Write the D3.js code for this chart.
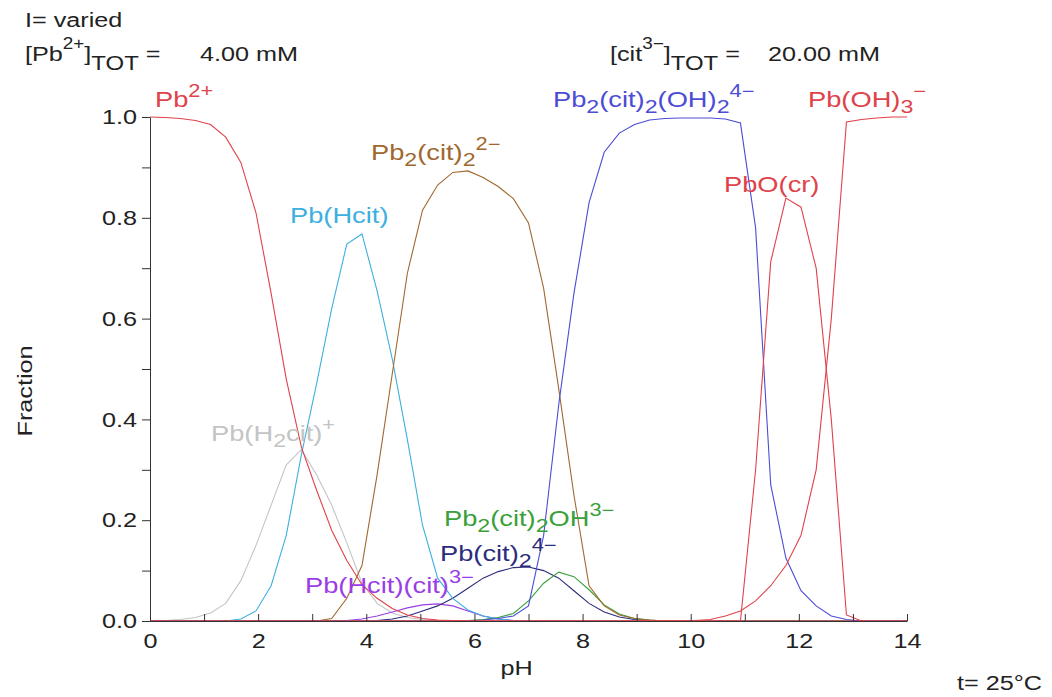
<!DOCTYPE html>
<html>
<head>
<meta charset="utf-8">
<script src="https://cdn.jsdelivr.net/npm/d3@7/dist/d3.min.js"></script>
<style>
body { margin: 0; background: #fff; }
svg text { font-family: "Liberation Sans", Arial, sans-serif; }
</style>
</head>
<body>
<div id="chart"></div>
<script>
// pH grid used by every species curve
const pH = [0, 0.28, 0.56, 0.84, 1.12, 1.4, 1.68, 1.96, 2.24, 2.52,
    2.8, 3.08, 3.36, 3.64, 3.92, 4.2, 4.48, 4.76, 5.04, 5.32,
    5.6, 5.88, 6.16, 6.44, 6.72, 7, 7.28, 7.56, 7.84, 8.12,
    8.4, 8.68, 8.96, 9.24, 9.52, 9.8, 10.08, 10.36, 10.64, 10.92,
    11.2, 11.48, 11.76, 12.04, 12.32, 12.6, 12.88, 13.16, 13.44, 13.72,
    14];

// fractions (one value per pH point)
const pb2 = [1.0, 0.999, 0.997, 0.993, 0.985, 0.96, 0.91, 0.81, 0.65, 0.48,
    0.345, 0.26, 0.18, 0.12, 0.072, 0.045, 0.025, 0.012, 0.005, 0.002,
    0.001, 0, 0, 0, 0, 0, 0, 0, 0, 0,
    0, 0, 0, 0, 0, 0, 0, 0, 0, 0,
    0, 0, 0, 0, 0, 0, 0, 0, 0, 0,
    0];
const pbH2cit = [0, 0.001, 0.003, 0.007, 0.016, 0.035, 0.08, 0.15, 0.23, 0.31,
    0.34, 0.29, 0.23, 0.155, 0.075, 0.035, 0.016, 0.007, 0.003, 0.001,
    0, 0, 0, 0, 0, 0, 0, 0, 0, 0,
    0, 0, 0, 0, 0, 0, 0, 0, 0, 0,
    0, 0, 0, 0, 0, 0, 0, 0, 0, 0,
    0];
const pbHcit = [0, 0, 0, 0, 0, 0, 0.004, 0.02, 0.07, 0.17,
    0.33, 0.47, 0.62, 0.748, 0.768, 0.655, 0.52, 0.36, 0.19, 0.085,
    0.045, 0.022, 0.01, 0.004, 0.001, 0, 0, 0, 0, 0,
    0, 0, 0, 0, 0, 0, 0, 0, 0, 0,
    0, 0, 0, 0, 0, 0, 0, 0, 0, 0,
    0];
const pb2cit2 = [0, 0, 0, 0, 0, 0, 0, 0, 0, 0,
    0, 0, 0.005, 0.045, 0.11, 0.29, 0.49, 0.69, 0.815, 0.865,
    0.89, 0.893, 0.88, 0.862, 0.838, 0.79, 0.66, 0.46, 0.25, 0.07,
    0.03, 0.012, 0.005, 0.002, 0, 0, 0, 0, 0, 0,
    0, 0, 0, 0, 0, 0, 0, 0, 0, 0,
    0];
const pb2cit2oh2 = [0, 0, 0, 0, 0, 0, 0, 0, 0, 0,
    0, 0, 0, 0, 0, 0, 0, 0, 0, 0,
    0, 0, 0.002, 0.005, 0.01, 0.03, 0.17, 0.43, 0.65, 0.83,
    0.93, 0.968, 0.985, 0.994, 0.997, 0.998, 0.998, 0.998, 0.996, 0.988,
    0.78, 0.27, 0.125, 0.06, 0.03, 0.01, 0.003, 0, 0, 0,
    0];
const pbO = [0, 0, 0, 0, 0, 0, 0, 0, 0, 0,
    0, 0, 0, 0, 0, 0, 0, 0, 0, 0,
    0, 0, 0, 0, 0, 0, 0, 0, 0, 0,
    0, 0, 0, 0, 0, 0, 0, 0, 0, 0,
    0.30, 0.713, 0.839, 0.821, 0.70, 0.40, 0.012, 0, 0, 0,
    0];
const pbOH3 = [0, 0, 0, 0, 0, 0, 0, 0, 0, 0,
    0, 0, 0, 0, 0, 0, 0, 0, 0, 0,
    0, 0, 0, 0, 0, 0, 0, 0, 0, 0,
    0, 0, 0, 0, 0, 0, 0.001, 0.003, 0.01, 0.02,
    0.04, 0.07, 0.11, 0.17, 0.30, 0.60, 0.99, 0.995, 0.998, 1.0,
    1.0];
const pbHcitcit = [0, 0, 0, 0, 0, 0, 0, 0, 0, 0,
    0, 0, 0, 0.001, 0.004, 0.01, 0.018, 0.026, 0.032, 0.034,
    0.03, 0.02, 0.01, 0.004, 0.001, 0, 0, 0, 0, 0,
    0, 0, 0, 0, 0, 0, 0, 0, 0, 0,
    0, 0, 0, 0, 0, 0, 0, 0, 0, 0,
    0];
const pbcit2 = [0, 0, 0, 0, 0, 0, 0, 0, 0, 0,
    0, 0, 0, 0, 0, 0.001, 0.004, 0.01, 0.02, 0.03,
    0.045, 0.065, 0.085, 0.098, 0.106, 0.107, 0.10, 0.085, 0.06, 0.035,
    0.018, 0.008, 0.003, 0.001, 0, 0, 0, 0, 0, 0,
    0, 0, 0, 0, 0, 0, 0, 0, 0, 0,
    0];
const pb2cit2oh = [0, 0, 0, 0, 0, 0, 0, 0, 0, 0,
    0, 0, 0, 0, 0, 0, 0, 0, 0, 0,
    0, 0.001, 0.003, 0.007, 0.015, 0.04, 0.075, 0.097, 0.088, 0.062,
    0.032, 0.014, 0.005, 0.002, 0, 0, 0, 0, 0, 0,
    0, 0, 0, 0, 0, 0, 0, 0, 0, 0,
    0];

const xTicks = [0, 1, 2, 3, 4, 5, 6, 7, 8, 9, 10, 11, 12, 13, 14];
const yTicks = [0, 0.1, 0.2, 0.3, 0.4, 0.5, 0.6, 0.7, 0.8, 0.9, 1.0];

const series = [
    { values: pbH2cit, color: "#c4c4c4", label: "Pb(H_{2}cit)^{+}", lx: 211, ly: 441 },
    { values: pbHcitcit, color: "#9a3de6", label: "Pb(Hcit)(cit)^{3−}", lx: 305, ly: 593 },
    { values: pbcit2, color: "#2c2c7c", label: "Pb(cit)_{2}^{4−}", lx: 440, ly: 561 },
    { values: pb2cit2oh, color: "#3aa03a", label: "Pb_{2}(cit)_{2}OH^{3−}", lx: 444, ly: 526 },
    { values: pbHcit, color: "#3db0e0", label: "Pb(Hcit)", lx: 290, ly: 223 },
    { values: pb2cit2, color: "#a0682e", label: "Pb_{2}(cit)_{2}^{2−}", lx: 371, ly: 160 },
    { values: pb2cit2oh2, color: "#4c4cd6", label: "Pb_{2}(cit)_{2}(OH)_{2}^{4−}", lx: 553, ly: 107 },
    { values: pbO, color: "#e0424a", label: "PbO(cr)", lx: 724, ly: 192 },
    { values: pbOH3, color: "#e0424a", label: "Pb(OH)_{3}^{−}", lx: 808, ly: 107 },
    { values: pb2, color: "#e0424a", label: "Pb^{2+}", lx: 155, ly: 107 }
];

const FS = 21;     // base font size
const SX = 1.2;    // the original lettering is wider than Arial

const svg = d3.select("#chart")
    .append("svg")
    .attr("width", 1052)
    .attr("height", 697);

const x = d3.scaleLinear().domain([0, 14]).range([150, 907]);
const y = d3.scaleLinear().domain([0, 1]).range([621, 117]);

const line = d3.line()
    .x((d, i) => x(pH[i]))
    .y(d => y(d));

series.forEach(s => {
    svg.append("path")
        .datum(s.values)
        .attr("fill", "none")
        .attr("stroke", s.color)
        .attr("stroke-width", 1.1)
        .attr("d", line);
});

// text with _{sub} and ^{sup} markup
function richText(px, py, str, color, opt = {}) {
    const fs = opt.fs || FS, sx = opt.sx || SX;
    const subShift = opt.sub || 6, supShift = opt.sup || -10;
    const subSize = opt.subSize || 0.85, supSize = opt.supSize || 0.8;
    const t = svg.append("text")
        .attr("transform", `translate(${px},${py}) scale(${sx},1)`)
        .attr("fill", color)
        .style("font-size", fs + "px");
    const re = /([_^])\{([^}]*)\}|([^_^]+)/g;
    let m, shift = 0;
    while ((m = re.exec(str))) {
        let target = 0, size = fs, txt = m[3];
        if (m[1] === "_") { target = subShift; size = fs * subSize; txt = m[2]; }
        if (m[1] === "^") { target = supShift; size = fs * supSize; txt = m[2]; }
        t.append("tspan")
            .attr("dy", target - shift)
            .style("font-size", size + "px")
            .text(txt);
        shift = target;
    }
    return t;
}

function stretchText(sel) {
    sel.selectAll("text").each(function () {
        const t = d3.select(this);
        const tx = +t.attr("x") || 0;
        const ty = +t.attr("y") || 0;
        t.attr("x", 0).attr("y", 0)
            .attr("transform", `translate(${tx},${ty}) scale(${SX},1)`);
    });
}

const yAxis = svg.append("g")
    .attr("transform", `translate(${x(0)},0)`)
    .call(d3.axisLeft(y)
        .tickValues(yTicks)
        .tickSizeInner(8)
        .tickSizeOuter(0)
        .tickPadding(5)
        .tickFormat((d, i) => i % 2 === 0 ? d3.format(".1f")(d) : ""));

const xAxis = svg.append("g")
    .attr("transform", `translate(0,${y(0)})`)
    .call(d3.axisBottom(x)
        .tickValues(xTicks)
        .tickSizeInner(-7)
        .tickSizeOuter(0)
        .tickPadding(12)
        .tickFormat(d => d % 2 === 0 ? d : ""));

[xAxis, yAxis].forEach(a => {
    a.select(".domain").attr("stroke", "#333");
    a.selectAll(".tick line").attr("stroke", "#333");
    a.selectAll("text")
        .style("font-size", FS + "px")
        .style("font-family", "\"Liberation Sans\", Arial, sans-serif")
        .attr("fill", "#222");
    stretchText(a);
});

series.forEach(s => richText(s.lx, s.ly, s.label, s.color, { fs: 22, sx: 1.24 }));

// header
const hdr = { sup: -12, sub: 9, subSize: 0.95, supSize: 0.75 };
richText(25, 27, "I= varied", "#222");
richText(25, 61, "[Pb^{2+}]_{TOT} =", "#222", hdr);
richText(200, 61, "4.00 mM", "#222");
richText(610, 61, "[cit^{3−}]_{TOT} =", "#222", hdr);
richText(768, 61, "20.00 mM", "#222");

// axis titles
svg.append("text")
    .attr("transform", `translate(${(x(0) + x(14)) / 2 - 12},675) scale(${SX},1)`)
    .attr("text-anchor", "middle")
    .attr("fill", "#222")
    .style("font-size", FS + "px")
    .text("pH");

svg.append("text")
    .attr("transform", `translate(32,${(y(0) + y(1)) / 2 + 22}) rotate(-90) scale(${SX},1)`)
    .attr("text-anchor", "middle")
    .attr("fill", "#222")
    .style("font-size", FS + "px")
    .text("Fraction");

richText(957, 690, "t= 25°C", "#222");
</script>
</body>
</html>
